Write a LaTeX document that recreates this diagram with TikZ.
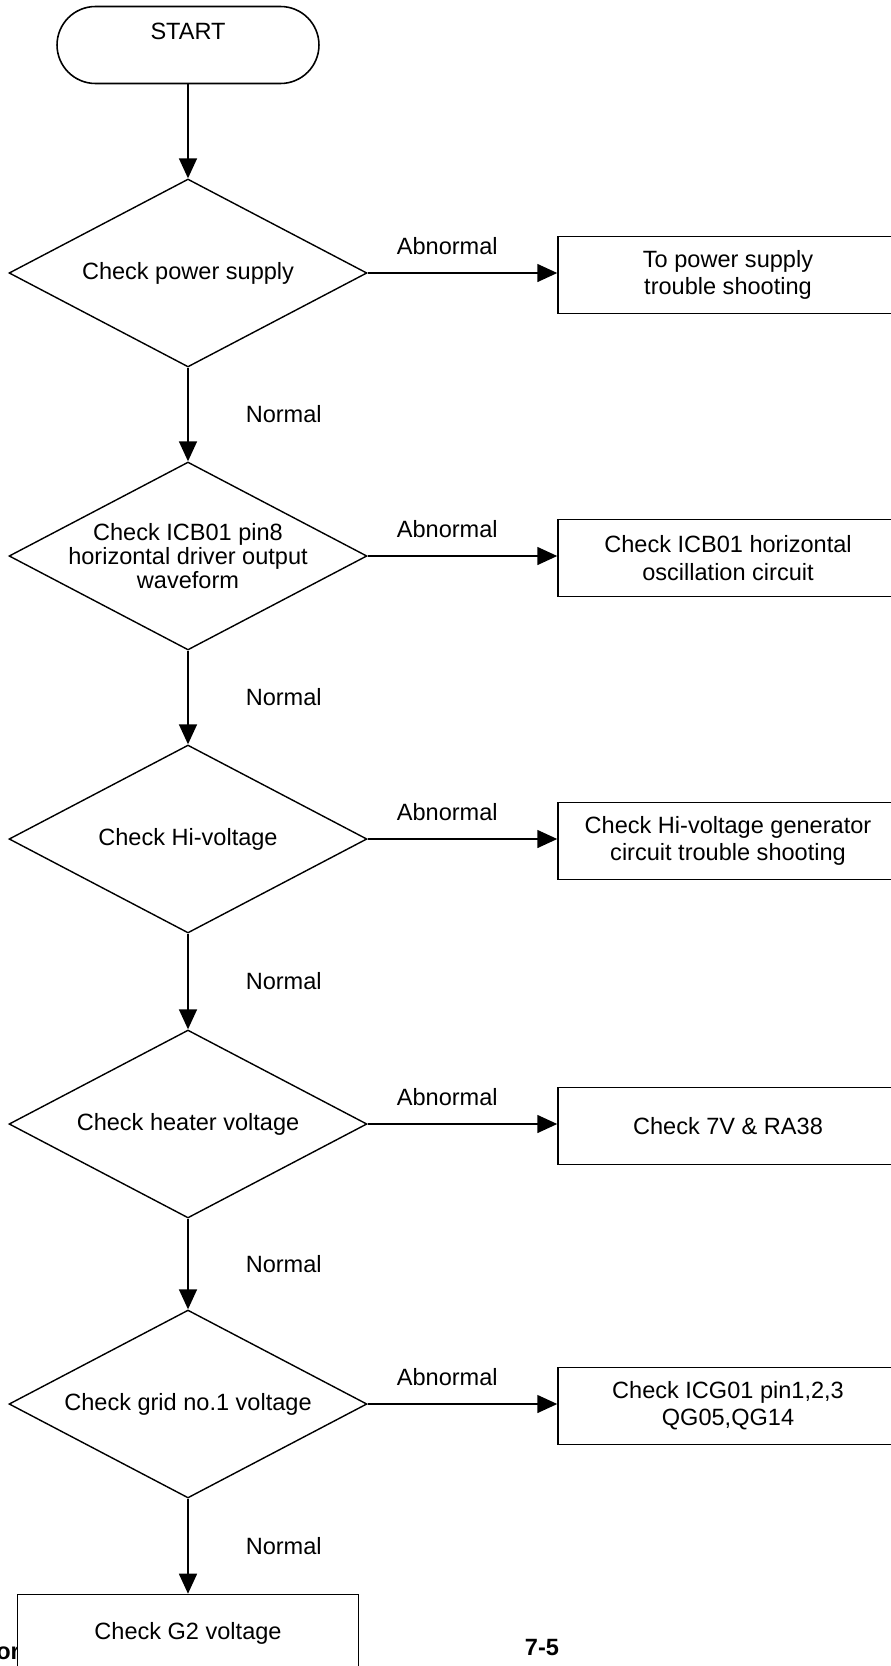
\documentclass[tikz,border=0pt]{standalone}
\usepackage{fontspec}
\setmainfont{Liberation Sans}
\usetikzlibrary{arrows.meta,shapes.geometric}

\begin{document}
\begin{tikzpicture}[
    x=0.02cm, y=-0.02cm,
    every node/.style={font=\fontsize{13.4}{15.5}\selectfont},
    terminal/.style={draw, line width=0.9pt, rounded corners=0.77cm,
        minimum width=5.24cm, minimum height=1.54cm, inner sep=0pt,
        text height=0.34cm, text depth=0.55cm},
    decision/.style={diamond, draw, line width=0.8pt, aspect=1.9,
        minimum width=7.16cm, minimum height=3.76cm, inner sep=0pt,
        align=center, font=\fontsize{13.4}{13.8}\selectfont},
    action/.style={rectangle, draw, line width=0.9pt, fill=white,
        minimum width=6.8cm, minimum height=1.54cm, inner sep=0pt,
        align=center},
    flow/.style={draw, line width=0.9pt,
        -{Triangle[length=0.4cm, width=0.36cm]}},
    lbl/.style={inner sep=0pt}
]
\useasboundingbox (0,0) rectangle (891,1666);
\clip (0,0) rectangle (891,1666);

\node[terminal] (start) at (188, 45) {START};
\node[decision] (d1) at (188, 273) {Check power supply};
\node[decision, inner sep=-3pt] (d2) at (188, 556)
    {Check ICB01 pin8\\horizontal driver output\\waveform};
\node[decision] (d3) at (188, 839) {Check Hi-voltage};
\node[decision] (d4) at (188, 1124) {Check heater voltage};
\node[decision] (d5) at (188, 1404) {Check grid no.1 voltage};

\node[action] (b1) at (728, 275) {To power supply\\trouble shooting};
\node[action] (b2) at (728, 558) {Check ICB01 horizontal\\oscillation circuit};
\node[action] (b3) at (728, 841)
    {Check Hi-voltage generator\\circuit trouble shooting};
\node[action] (b4) at (728, 1126) {Check 7V \& RA38};
\node[action] (b5) at (728, 1406) {Check ICG01 pin1,2,3\\QG05,QG14};

\node[lbl, anchor=base west, font=\fontsize{13.4}{15.5}\selectfont\bfseries]
    (pgref) at (-4, 1659) {or};
\node[action, minimum width=6.82cm] (b6) at (188, 1633) {Check G2 voltage};
\node[lbl, font=\fontsize{13.4}{15.5}\selectfont\bfseries]
    (pgnum) at (542, 1647) {7-5};

\draw[flow] (start) -- (d1);
\draw[flow] (d1) -- node[right=1.14cm, lbl]{Normal} (d2);
\draw[flow] (d2) -- node[right=1.14cm, lbl]{Normal} (d3);
\draw[flow] (d3) -- node[right=1.14cm, lbl]{Normal} (d4);
\draw[flow] (d4) -- node[right=1.14cm, lbl]{Normal} (d5);
\draw[flow] (d5) -- node[right=1.14cm, lbl]{Normal} (b6);

\draw[flow] (d1.east) -- node[above=0.35cm, pos=0.42, lbl]{Abnormal}
    (d1.east -| b1.west);
\draw[flow] (d2.east) -- node[above=0.35cm, pos=0.42, lbl]{Abnormal}
    (d2.east -| b2.west);
\draw[flow] (d3.east) -- node[above=0.35cm, pos=0.42, lbl]{Abnormal}
    (d3.east -| b3.west);
\draw[flow] (d4.east) -- node[above=0.35cm, pos=0.42, lbl]{Abnormal}
    (d4.east -| b4.west);
\draw[flow] (d5.east) -- node[above=0.35cm, pos=0.42, lbl]{Abnormal}
    (d5.east -| b5.west);
\end{tikzpicture}
\end{document}
